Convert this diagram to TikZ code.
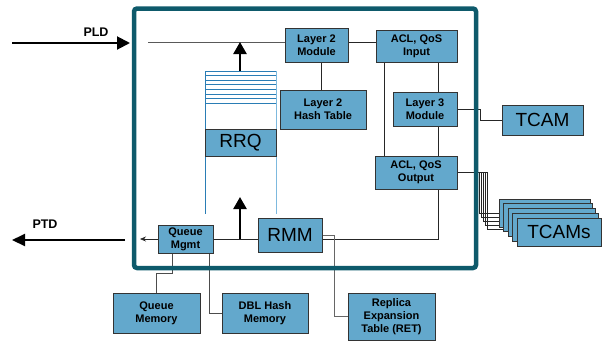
\documentclass[tikz,border=0pt]{standalone}
\usepackage{fontspec}
\setmainfont{Liberation Sans}
\usepackage{tikz}
\usetikzlibrary{arrows.meta,positioning,calc,backgrounds}
\definecolor{frameTeal}{HTML}{0E5A6B}
\definecolor{boxBlue}{HTML}{63A8CC}
\definecolor{stackBlue}{HTML}{2A7DB5}
\definecolor{stackLight}{HTML}{7DB9DE}

\begin{document}
\begin{tikzpicture}[x=1pt,y=-1pt,
  blk/.style={draw=black!80,fill=boxBlue,line width=0.8pt,align=center,inner sep=0pt,
    font=\bfseries\fontsize{11}{13}\selectfont},
  bigblk/.style={blk,font=\fontsize{19}{22}\selectfont},
  wire/.style={draw=black!85,line width=0.7pt},
  bigarr/.style={line width=2.4pt,-{Triangle[length=12pt,width=13pt]}},
  lbl/.style={font=\bfseries\fontsize{12.5}{14}\selectfont}]
\useasboundingbox (0,0) rectangle (602,341);
% blocks inside the switch
\node[blk,minimum width=63pt,minimum height=34pt] (l2mod) at (316.5,45) {Layer 2\\Module};
\node[blk,minimum width=81pt,minimum height=32pt] (aclin) at (416.5,46) {ACL, QoS\\Input};
\node[blk,minimum width=86pt,minimum height=39pt] (l2hash) at (323,109.5) {Layer 2\\Hash Table};
\node[blk,minimum width=64pt,minimum height=34pt] (l3mod) at (425,109) {Layer 3\\Module};
\node[blk,minimum width=82pt,minimum height=33pt] (aclout) at (416,172.5) {ACL, QoS\\Output};
\node[bigblk,minimum width=64pt,minimum height=34pt] (rmm) at (290,235) {RMM};
\node[blk,minimum width=55pt,minimum height=28pt] (qmgmt) at (185.5,239) {Queue\\Mgmt};
% blocks outside
\node[blk,minimum width=87pt,minimum height=40pt] (qmem) at (156.5,313) {Queue\\Memory};
\node[blk,minimum width=86pt,minimum height=40pt] (dblhash) at (265,313) {DBL Hash\\Memory};
\node[blk,minimum width=87pt,minimum height=47pt] (ret) at (391.5,316.5) {Replica\\Expansion\\Table (RET)};
\node[bigblk,minimum width=81pt,minimum height=30pt] (tcam) at (542.5,120) {TCAM};
% stacked TCAMs
\foreach \i in {1,...,5}{
  \pgfmathsetmacro\tw{91-1.75*(\i-1)}
  \pgfmathsetmacro\tx{499+4.5*(\i-1)+\tw/2}
  \pgfmathsetmacro\ty{213+4.75*(\i-1)}
  \node[bigblk,minimum width=\tw pt,minimum height=28pt] (tcs\i) at (\tx,\ty) {\ifnum\i=5 TCAMs\fi};
}
% RRQ queue stack
\foreach \k in {0,...,7}
  \draw[stackBlue,line width=0.7pt] (205,71+4.6*\k) -- (276,71+4.6*\k);
\draw[stackBlue,line width=0.7pt] (205,71) -- (205,214);
\draw[stackLight,line width=0.7pt] (276,71) -- (276,214);
\node[bigblk,minimum width=71pt,minimum height=27pt] (rrq) at (240.5,142.5) {RRQ};
% free ends
\coordinate (pldA) at (12,43);
\coordinate (pldB) at (130,43);
\coordinate (pldin) at (148,42);
\coordinate (ptdA) at (125,240);
\coordinate (ptdB) at (12,240);
\coordinate (qout) at (140,239);
\coordinate (qjoin) at (240,239);
\coordinate (qtip) at (240,197);
\coordinate (stacktop) at (240,71);
\begin{scope}[on background layer]
\draw[wire,draw=black!65] (pldin) -- (pldin -| l2mod.west);
\draw[wire] (l2mod.east |- pldin) -- (aclin.west |- pldin);
\draw[wire] ([xshift=4.5pt]l2mod.south) -- ([xshift=4.5pt]l2mod.south |- l2hash.north);
\draw[wire] ([xshift=-32.5pt]aclin.south) -- ([xshift=-32.5pt]aclin.south |- aclout.north);
\draw[wire] ([xshift=21.5pt]aclin.south) -- ([xshift=21.5pt]aclin.south |- l3mod.north);
\draw[wire] ([xshift=13pt]l3mod.south) -- ([xshift=13pt]l3mod.south |- aclout.north);
\draw[wire] (l3mod.east) -- ++(23,0) |- (tcam.west);
\draw[wire] ([xshift=22pt]aclout.south) |- ([yshift=-4pt]rmm.east);
\draw[wire,draw=black!60] (rmm.east) -- ++(12,0) |- (ret.west);
\draw[wire] (qmgmt.east) -- (qmgmt.east -| rmm.west);
\draw[wire,draw=black!70] ([xshift=-13.5pt]qmgmt.south) -- ++(0,20) -| (qmem.north);
\draw[wire,draw=black!70] ([xshift=23.5pt]qmgmt.south) |- (dblhash.west);
\foreach \i in {1,...,5}{
  \pgfmathsetmacro\fx{22+2*(\i-1)}
  \pgfmathsetmacro\fy{213+4*(\i-1)}
  \draw[wire] (aclout.east) -- ++(\fx,0) |- (tcs\i.west |- 0,\fy);
}
% switch frame
\draw[frameTeal,line width=4.5pt,rounded corners=3pt] (134,8.5) rectangle (476,268);
\end{scope}
% arrows
\draw[bigarr] (stacktop) -- (stacktop |- pldin);
\draw[bigarr] (qjoin) -- (qtip);
\draw[wire,-{Stealth[length=6pt,width=5pt]}] (qmgmt.west) -- (qout);
\draw[line width=2pt,-{Triangle[length=13pt,width=13pt]}] (pldA) -- (pldB);
\draw[line width=2pt,-{Triangle[length=13pt,width=12pt]}] (ptdA) -- (ptdB);
\node[lbl] (pld) at (96,32) {PLD};
\node[lbl] (ptd) at (45,224) {PTD};
\end{tikzpicture}
\end{document}
